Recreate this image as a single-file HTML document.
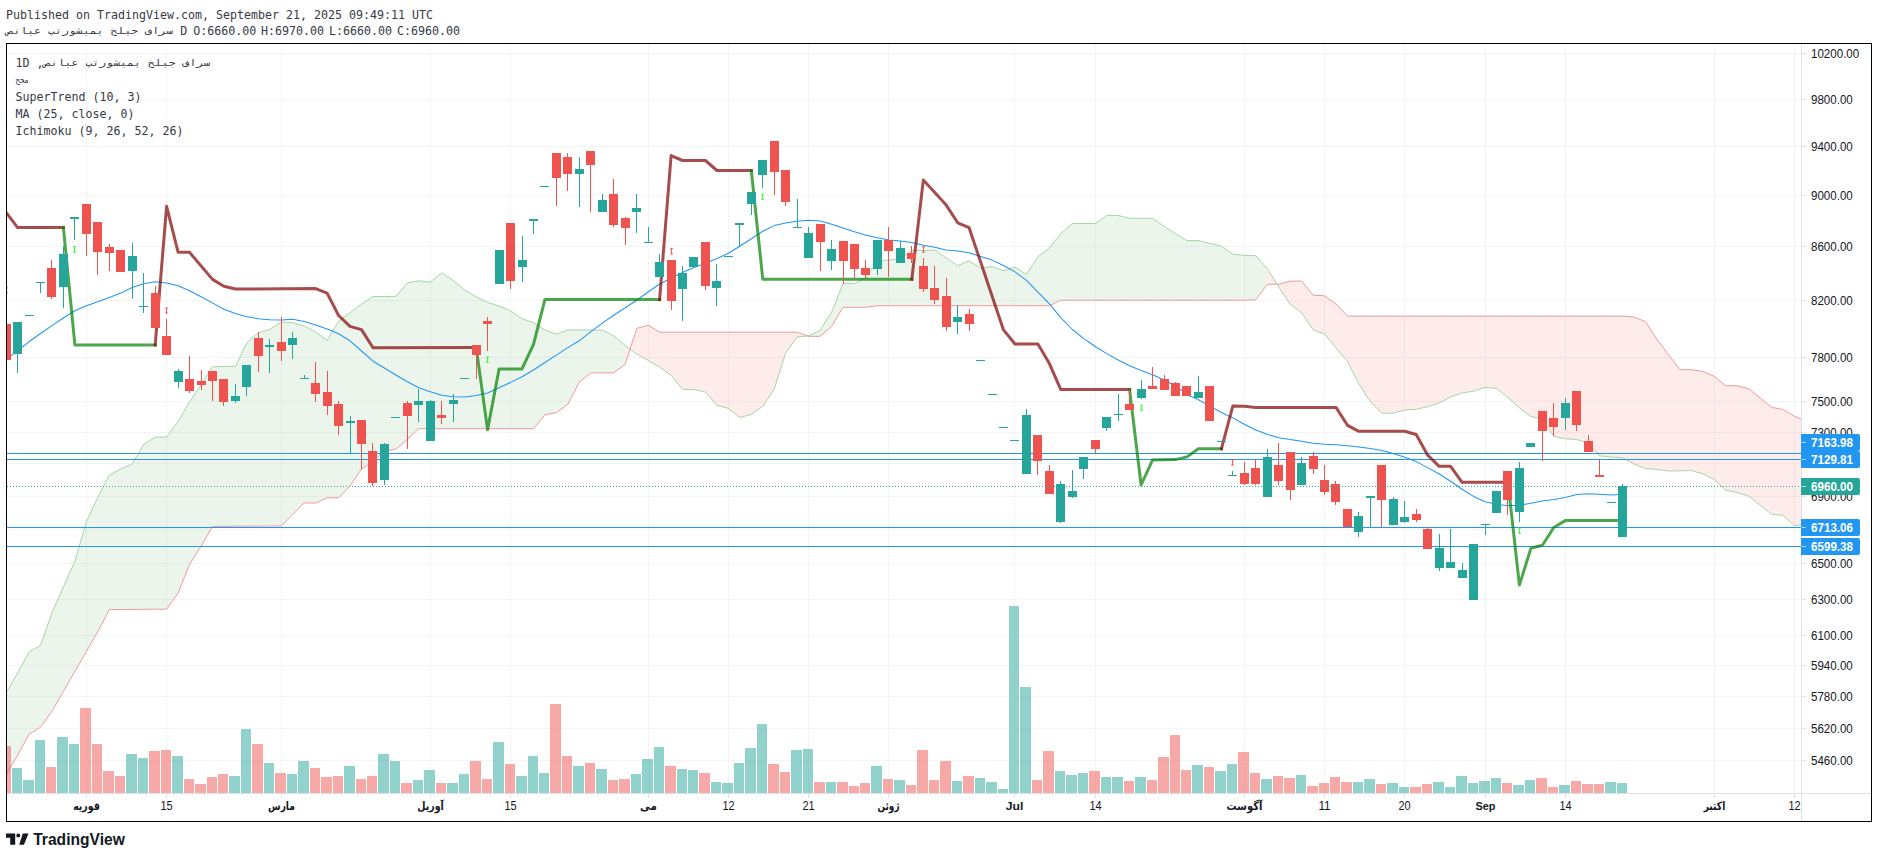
<!DOCTYPE html><html><head><meta charset="utf-8"><title>TradingView Chart</title>
<style>html,body{margin:0;padding:0;background:#fff;overflow:hidden}svg{display:block}.mono{font-family:"DejaVu Sans Mono","Liberation Mono",monospace;font-size:12.3px;fill:#363a45}.ax{font-family:"Liberation Sans","DejaVu Sans",sans-serif;font-size:12px;fill:#131722}.axb{font-family:"Liberation Sans","DejaVu Sans",sans-serif;font-size:12px;font-weight:bold;fill:#fff}.tm{font-family:"Liberation Sans","DejaVu Sans",sans-serif;font-size:12px;fill:#131722;text-anchor:middle}.tmb{font-family:"Liberation Sans","DejaVu Sans",sans-serif;font-size:11.5px;font-weight:bold;fill:#131722;text-anchor:middle}.logo{font-family:"Liberation Sans","DejaVu Sans",sans-serif;font-size:16.5px;font-weight:bold;fill:#131722}</style></head><body>
<svg width="1878" height="858" viewBox="0 0 1878 858">
<rect width="1878" height="858" fill="#fff"/>
<defs><clipPath id="pane"><rect x="7" y="44" width="1794.5" height="749"/></clipPath></defs>
<g shape-rendering="crispEdges">
<rect x="8" y="53" width="1793" height="1" fill="#f3f4f4"/>
<rect x="8" y="99" width="1793" height="1" fill="#f3f4f4"/>
<rect x="8" y="146" width="1793" height="1" fill="#f3f4f4"/>
<rect x="8" y="195" width="1793" height="1" fill="#f3f4f4"/>
<rect x="8" y="246" width="1793" height="1" fill="#f3f4f4"/>
<rect x="8" y="300" width="1793" height="1" fill="#f3f4f4"/>
<rect x="8" y="357" width="1793" height="1" fill="#f3f4f4"/>
<rect x="8" y="401" width="1793" height="1" fill="#f3f4f4"/>
<rect x="8" y="432" width="1793" height="1" fill="#f3f4f4"/>
<rect x="8" y="463" width="1793" height="1" fill="#f3f4f4"/>
<rect x="8" y="496" width="1793" height="1" fill="#f3f4f4"/>
<rect x="8" y="529" width="1793" height="1" fill="#f3f4f4"/>
<rect x="8" y="563" width="1793" height="1" fill="#f3f4f4"/>
<rect x="8" y="599" width="1793" height="1" fill="#f3f4f4"/>
<rect x="8" y="635" width="1793" height="1" fill="#f3f4f4"/>
<rect x="8" y="665" width="1793" height="1" fill="#f3f4f4"/>
<rect x="8" y="696" width="1793" height="1" fill="#f3f4f4"/>
<rect x="8" y="728" width="1793" height="1" fill="#f3f4f4"/>
<rect x="8" y="760" width="1793" height="1" fill="#f3f4f4"/>
<rect x="86" y="44" width="1" height="749" fill="#f3f4f4"/>
<rect x="166" y="44" width="1" height="749" fill="#f3f4f4"/>
<rect x="281" y="44" width="1" height="749" fill="#f3f4f4"/>
<rect x="430" y="44" width="1" height="749" fill="#f3f4f4"/>
<rect x="510" y="44" width="1" height="749" fill="#f3f4f4"/>
<rect x="648" y="44" width="1" height="749" fill="#f3f4f4"/>
<rect x="728" y="44" width="1" height="749" fill="#f3f4f4"/>
<rect x="808" y="44" width="1" height="749" fill="#f3f4f4"/>
<rect x="888" y="44" width="1" height="749" fill="#f3f4f4"/>
<rect x="1014" y="44" width="1" height="749" fill="#f3f4f4"/>
<rect x="1095" y="44" width="1" height="749" fill="#f3f4f4"/>
<rect x="1244" y="44" width="1" height="749" fill="#f3f4f4"/>
<rect x="1324" y="44" width="1" height="749" fill="#f3f4f4"/>
<rect x="1404" y="44" width="1" height="749" fill="#f3f4f4"/>
<rect x="1485" y="44" width="1" height="749" fill="#f3f4f4"/>
<rect x="1565" y="44" width="1" height="749" fill="#f3f4f4"/>
<rect x="1714" y="44" width="1" height="749" fill="#f3f4f4"/>
<rect x="1794" y="44" width="1" height="749" fill="#f3f4f4"/>
</g>
<g clip-path="url(#pane)">
<polygon points="6.1,692.8 17.6,673.2 29.0,651.9 40.5,645.5 52.0,612.5 63.4,587.0 74.9,561.2 86.4,521.7 97.8,497.2 109.3,475.2 120.8,468.8 132.2,464.1 143.7,444.5 155.2,437.0 166.6,437.0 178.1,421.6 189.5,401.8 201.0,385.3 212.5,366.8 223.9,366.5 235.4,366.3 246.9,342.7 258.3,332.6 269.8,329.4 281.3,322.0 292.7,322.6 304.2,326.0 315.7,332.0 327.1,340.5 338.6,321.3 350.0,312.8 361.5,304.0 373.0,296.5 384.4,296.5 395.9,296.4 407.4,283.0 418.8,280.8 430.3,282.1 441.8,272.9 453.2,280.4 464.7,290.0 476.2,296.8 487.6,302.4 499.1,306.0 510.6,310.9 522.0,318.8 533.5,322.6 544.9,330.1 556.4,334.2 567.9,329.9 579.3,330.0 590.8,330.0 602.3,330.1 613.7,335.9 625.2,345.5 625.2,364.2 613.7,372.8 602.3,372.8 590.8,372.8 579.3,382.2 567.9,404.1 556.4,412.7 544.9,414.8 533.5,428.7 522.0,428.7 510.6,428.7 499.1,428.7 487.6,428.7 476.2,428.7 464.7,428.7 453.2,428.7 441.8,428.7 430.3,428.7 418.8,428.7 407.4,439.3 395.9,449.0 384.4,451.2 373.0,461.6 361.5,469.0 350.0,485.9 338.6,497.8 327.1,497.8 315.7,503.0 304.2,503.0 292.7,514.5 281.3,526.0 269.8,526.0 258.3,526.1 246.9,526.2 235.4,526.2 223.9,526.3 212.5,526.4 201.0,546.3 189.5,564.4 178.1,593.2 166.6,609.2 155.2,609.2 143.7,609.3 132.2,609.4 120.8,609.5 109.3,609.6 97.8,631.6 86.4,651.5 74.9,671.4 63.4,691.3 52.0,711.2 40.5,727.2 29.0,734.2 17.6,755.4 6.1,774.9" fill="rgba(67,160,71,0.10)"/>
<polygon points="625.2,345.5 636.7,354.0 648.1,360.4 659.6,367.2 671.1,375.3 682.5,389.2 694.0,389.6 705.4,392.0 716.9,405.2 728.4,408.4 739.8,417.6 751.3,414.4 762.8,406.3 774.2,389.2 785.7,352.9 797.2,336.9 797.2,332.2 785.7,332.2 774.2,332.2 762.8,332.2 751.3,332.2 739.8,332.2 728.4,332.2 716.9,332.2 705.4,332.2 694.0,332.2 682.5,332.2 671.1,332.2 659.6,332.2 648.1,325.2 636.7,328.4 625.2,364.2" fill="rgba(244,67,54,0.10)"/>
<polygon points="797.2,336.9 808.6,335.9 820.1,330.5 831.6,312.4 843.0,283.6 854.5,283.6 866.0,277.8 877.4,260.6 888.9,260.1 900.3,258.6 911.8,250.5 923.3,250.3 934.7,250.1 946.2,258.0 957.7,265.7 969.1,260.8 980.6,268.2 992.1,266.5 1003.5,270.8 1015.0,267.2 1026.5,274.4 1037.9,256.8 1049.4,248.0 1060.8,233.6 1072.3,223.5 1083.8,223.5 1095.2,223.5 1106.7,215.5 1118.2,215.5 1129.6,218.3 1141.1,218.3 1152.6,218.3 1164.0,226.3 1175.5,233.7 1187.0,240.6 1198.4,240.6 1209.9,243.3 1221.4,246.1 1232.8,254.0 1244.3,255.5 1255.7,255.7 1267.2,268.5 1267.2,284.3 1255.7,299.9 1244.3,300.2 1232.8,300.2 1221.4,300.2 1209.9,300.2 1198.4,300.2 1187.0,300.2 1175.5,300.2 1164.0,300.2 1152.6,300.2 1141.1,300.2 1129.6,300.2 1118.2,300.2 1106.7,300.2 1095.2,300.2 1083.8,300.2 1072.3,300.2 1060.8,300.2 1049.4,305.7 1037.9,305.7 1026.5,305.7 1015.0,305.7 1003.5,305.7 992.1,305.7 980.6,305.7 969.1,305.7 957.7,305.7 946.2,305.7 934.7,305.7 923.3,305.7 911.8,305.7 900.3,305.7 888.9,305.7 877.4,305.7 866.0,307.3 854.5,307.3 843.0,307.3 831.6,326.3 820.1,336.3 808.6,336.3 797.2,332.2" fill="rgba(67,160,71,0.10)"/>
<polygon points="1267.2,268.5 1278.7,287.1 1290.1,304.1 1301.6,312.7 1313.1,329.7 1324.5,334.0 1336.0,347.9 1347.5,361.5 1358.9,383.7 1370.4,401.9 1381.9,413.2 1393.3,413.2 1404.8,410.0 1416.2,409.3 1427.7,406.6 1439.2,402.9 1450.6,397.0 1462.1,392.9 1473.6,391.2 1485.0,387.4 1496.5,388.4 1508.0,397.6 1519.4,407.8 1530.9,416.4 1542.4,419.2 1553.8,436.4 1565.3,438.8 1576.7,439.5 1588.2,443.0 1599.7,455.9 1611.1,456.9 1622.6,457.9 1634.1,463.9 1645.5,468.6 1657.0,469.3 1668.5,471.0 1679.9,470.9 1691.4,470.6 1702.9,473.9 1714.3,479.5 1725.8,490.2 1737.3,492.6 1748.7,496.1 1760.2,505.2 1771.6,514.2 1783.1,515.3 1794.6,525.8 1806.0,523.8 1806.0,421.0 1794.6,416.3 1783.1,409.5 1771.6,407.3 1760.2,398.0 1748.7,388.7 1737.3,385.8 1725.8,385.8 1714.3,376.4 1702.9,371.5 1691.4,369.7 1679.9,369.7 1668.5,354.6 1657.0,339.5 1645.5,321.6 1634.1,317.1 1622.6,316.1 1611.1,316.1 1599.7,316.1 1588.2,316.1 1576.7,316.1 1565.3,316.1 1553.8,316.1 1542.4,316.1 1530.9,316.1 1519.4,316.1 1508.0,316.1 1496.5,316.1 1485.0,316.1 1473.6,316.1 1462.1,316.1 1450.6,316.1 1439.2,316.1 1427.7,316.1 1416.2,316.1 1404.8,316.1 1393.3,316.1 1381.9,316.1 1370.4,316.1 1358.9,316.1 1347.5,316.1 1336.0,304.1 1324.5,295.8 1313.1,295.2 1301.6,281.1 1290.1,281.1 1278.7,284.3 1267.2,284.3" fill="rgba(244,67,54,0.10)"/>
<polyline fill="none" stroke="#a5d6a7" stroke-width="1" points="6.1,692.8 17.6,673.2 29.0,651.9 40.5,645.5 52.0,612.5 63.4,587.0 74.9,561.2 86.4,521.7 97.8,497.2 109.3,475.2 120.8,468.8 132.2,464.1 143.7,444.5 155.2,437.0 166.6,437.0 178.1,421.6 189.5,401.8 201.0,385.3 212.5,366.8 223.9,366.5 235.4,366.3 246.9,342.7 258.3,332.6 269.8,329.4 281.3,322.0 292.7,322.6 304.2,326.0 315.7,332.0 327.1,340.5 338.6,321.3 350.0,312.8 361.5,304.0 373.0,296.5 384.4,296.5 395.9,296.4 407.4,283.0 418.8,280.8 430.3,282.1 441.8,272.9 453.2,280.4 464.7,290.0 476.2,296.8 487.6,302.4 499.1,306.0 510.6,310.9 522.0,318.8 533.5,322.6 544.9,330.1 556.4,334.2 567.9,329.9 579.3,330.0 590.8,330.0 602.3,330.1 613.7,335.9 625.2,345.5 636.7,354.0 648.1,360.4 659.6,367.2 671.1,375.3 682.5,389.2 694.0,389.6 705.4,392.0 716.9,405.2 728.4,408.4 739.8,417.6 751.3,414.4 762.8,406.3 774.2,389.2 785.7,352.9 797.2,336.9 808.6,335.9 820.1,330.5 831.6,312.4 843.0,283.6 854.5,283.6 866.0,277.8 877.4,260.6 888.9,260.1 900.3,258.6 911.8,250.5 923.3,250.3 934.7,250.1 946.2,258.0 957.7,265.7 969.1,260.8 980.6,268.2 992.1,266.5 1003.5,270.8 1015.0,267.2 1026.5,274.4 1037.9,256.8 1049.4,248.0 1060.8,233.6 1072.3,223.5 1083.8,223.5 1095.2,223.5 1106.7,215.5 1118.2,215.5 1129.6,218.3 1141.1,218.3 1152.6,218.3 1164.0,226.3 1175.5,233.7 1187.0,240.6 1198.4,240.6 1209.9,243.3 1221.4,246.1 1232.8,254.0 1244.3,255.5 1255.7,255.7 1267.2,268.5 1278.7,287.1 1290.1,304.1 1301.6,312.7 1313.1,329.7 1324.5,334.0 1336.0,347.9 1347.5,361.5 1358.9,383.7 1370.4,401.9 1381.9,413.2 1393.3,413.2 1404.8,410.0 1416.2,409.3 1427.7,406.6 1439.2,402.9 1450.6,397.0 1462.1,392.9 1473.6,391.2 1485.0,387.4 1496.5,388.4 1508.0,397.6 1519.4,407.8 1530.9,416.4 1542.4,419.2 1553.8,436.4 1565.3,438.8 1576.7,439.5 1588.2,443.0 1599.7,455.9 1611.1,456.9 1622.6,457.9 1634.1,463.9 1645.5,468.6 1657.0,469.3 1668.5,471.0 1679.9,470.9 1691.4,470.6 1702.9,473.9 1714.3,479.5 1725.8,490.2 1737.3,492.6 1748.7,496.1 1760.2,505.2 1771.6,514.2 1783.1,515.3 1794.6,525.8 1806.0,523.8"/>
<polyline fill="none" stroke="#ef9a9a" stroke-width="1" points="6.1,774.9 17.6,755.4 29.0,734.2 40.5,727.2 52.0,711.2 63.4,691.3 74.9,671.4 86.4,651.5 97.8,631.6 109.3,609.6 120.8,609.5 132.2,609.4 143.7,609.3 155.2,609.2 166.6,609.2 178.1,593.2 189.5,564.4 201.0,546.3 212.5,526.4 223.9,526.3 235.4,526.2 246.9,526.2 258.3,526.1 269.8,526.0 281.3,526.0 292.7,514.5 304.2,503.0 315.7,503.0 327.1,497.8 338.6,497.8 350.0,485.9 361.5,469.0 373.0,461.6 384.4,451.2 395.9,449.0 407.4,439.3 418.8,428.7 430.3,428.7 441.8,428.7 453.2,428.7 464.7,428.7 476.2,428.7 487.6,428.7 499.1,428.7 510.6,428.7 522.0,428.7 533.5,428.7 544.9,414.8 556.4,412.7 567.9,404.1 579.3,382.2 590.8,372.8 602.3,372.8 613.7,372.8 625.2,364.2 636.7,328.4 648.1,325.2 659.6,332.2 671.1,332.2 682.5,332.2 694.0,332.2 705.4,332.2 716.9,332.2 728.4,332.2 739.8,332.2 751.3,332.2 762.8,332.2 774.2,332.2 785.7,332.2 797.2,332.2 808.6,336.3 820.1,336.3 831.6,326.3 843.0,307.3 854.5,307.3 866.0,307.3 877.4,305.7 888.9,305.7 900.3,305.7 911.8,305.7 923.3,305.7 934.7,305.7 946.2,305.7 957.7,305.7 969.1,305.7 980.6,305.7 992.1,305.7 1003.5,305.7 1015.0,305.7 1026.5,305.7 1037.9,305.7 1049.4,305.7 1060.8,300.2 1072.3,300.2 1083.8,300.2 1095.2,300.2 1106.7,300.2 1118.2,300.2 1129.6,300.2 1141.1,300.2 1152.6,300.2 1164.0,300.2 1175.5,300.2 1187.0,300.2 1198.4,300.2 1209.9,300.2 1221.4,300.2 1232.8,300.2 1244.3,300.2 1255.7,299.9 1267.2,284.3 1278.7,284.3 1290.1,281.1 1301.6,281.1 1313.1,295.2 1324.5,295.8 1336.0,304.1 1347.5,316.1 1358.9,316.1 1370.4,316.1 1381.9,316.1 1393.3,316.1 1404.8,316.1 1416.2,316.1 1427.7,316.1 1439.2,316.1 1450.6,316.1 1462.1,316.1 1473.6,316.1 1485.0,316.1 1496.5,316.1 1508.0,316.1 1519.4,316.1 1530.9,316.1 1542.4,316.1 1553.8,316.1 1565.3,316.1 1576.7,316.1 1588.2,316.1 1599.7,316.1 1611.1,316.1 1622.6,316.1 1634.1,317.1 1645.5,321.6 1657.0,339.5 1668.5,354.6 1679.9,369.7 1691.4,369.7 1702.9,371.5 1714.3,376.4 1725.8,385.8 1737.3,385.8 1748.7,388.7 1760.2,398.0 1771.6,407.3 1783.1,409.5 1794.6,416.3 1806.0,421.0"/>
</g>
<g shape-rendering="crispEdges" clip-path="url(#pane)">
<rect x="0" y="746" width="11" height="47" fill="rgba(239,83,80,0.5)"/>
<rect x="12" y="768" width="10" height="25" fill="rgba(38,166,154,0.5)"/>
<rect x="23" y="780" width="11" height="13" fill="rgba(38,166,154,0.5)"/>
<rect x="35" y="740" width="10" height="53" fill="rgba(38,166,154,0.5)"/>
<rect x="46" y="767" width="10" height="26" fill="rgba(239,83,80,0.5)"/>
<rect x="57" y="737" width="11" height="56" fill="rgba(38,166,154,0.5)"/>
<rect x="69" y="744" width="10" height="49" fill="rgba(38,166,154,0.5)"/>
<rect x="80" y="708" width="11" height="85" fill="rgba(239,83,80,0.5)"/>
<rect x="92" y="744" width="10" height="49" fill="rgba(239,83,80,0.5)"/>
<rect x="103" y="771" width="11" height="22" fill="rgba(239,83,80,0.5)"/>
<rect x="115" y="776" width="10" height="17" fill="rgba(239,83,80,0.5)"/>
<rect x="126" y="754" width="11" height="39" fill="rgba(38,166,154,0.5)"/>
<rect x="138" y="758" width="10" height="35" fill="rgba(38,166,154,0.5)"/>
<rect x="149" y="751" width="11" height="42" fill="rgba(239,83,80,0.5)"/>
<rect x="161" y="750" width="10" height="43" fill="rgba(239,83,80,0.5)"/>
<rect x="172" y="756" width="11" height="37" fill="rgba(38,166,154,0.5)"/>
<rect x="184" y="779" width="10" height="14" fill="rgba(239,83,80,0.5)"/>
<rect x="195" y="784" width="11" height="9" fill="rgba(239,83,80,0.5)"/>
<rect x="207" y="777" width="10" height="16" fill="rgba(239,83,80,0.5)"/>
<rect x="218" y="774" width="10" height="19" fill="rgba(239,83,80,0.5)"/>
<rect x="229" y="776" width="11" height="17" fill="rgba(38,166,154,0.5)"/>
<rect x="241" y="729" width="10" height="64" fill="rgba(38,166,154,0.5)"/>
<rect x="252" y="744" width="11" height="49" fill="rgba(239,83,80,0.5)"/>
<rect x="264" y="763" width="10" height="30" fill="rgba(38,166,154,0.5)"/>
<rect x="275" y="773" width="11" height="20" fill="rgba(239,83,80,0.5)"/>
<rect x="287" y="774" width="10" height="19" fill="rgba(38,166,154,0.5)"/>
<rect x="298" y="761" width="11" height="32" fill="rgba(38,166,154,0.5)"/>
<rect x="310" y="768" width="10" height="25" fill="rgba(239,83,80,0.5)"/>
<rect x="321" y="777" width="11" height="16" fill="rgba(239,83,80,0.5)"/>
<rect x="333" y="776" width="10" height="17" fill="rgba(239,83,80,0.5)"/>
<rect x="344" y="766" width="11" height="27" fill="rgba(38,166,154,0.5)"/>
<rect x="356" y="779" width="10" height="14" fill="rgba(239,83,80,0.5)"/>
<rect x="367" y="776" width="10" height="17" fill="rgba(239,83,80,0.5)"/>
<rect x="378" y="754" width="11" height="39" fill="rgba(38,166,154,0.5)"/>
<rect x="390" y="761" width="10" height="32" fill="rgba(38,166,154,0.5)"/>
<rect x="401" y="783" width="11" height="10" fill="rgba(239,83,80,0.5)"/>
<rect x="413" y="780" width="10" height="13" fill="rgba(38,166,154,0.5)"/>
<rect x="424" y="770" width="11" height="23" fill="rgba(38,166,154,0.5)"/>
<rect x="436" y="783" width="10" height="10" fill="rgba(239,83,80,0.5)"/>
<rect x="447" y="783" width="11" height="10" fill="rgba(38,166,154,0.5)"/>
<rect x="459" y="774" width="10" height="19" fill="rgba(38,166,154,0.5)"/>
<rect x="470" y="761" width="11" height="32" fill="rgba(239,83,80,0.5)"/>
<rect x="482" y="779" width="10" height="14" fill="rgba(239,83,80,0.5)"/>
<rect x="493" y="742" width="11" height="51" fill="rgba(38,166,154,0.5)"/>
<rect x="505" y="764" width="10" height="29" fill="rgba(239,83,80,0.5)"/>
<rect x="516" y="776" width="11" height="17" fill="rgba(38,166,154,0.5)"/>
<rect x="528" y="756" width="10" height="37" fill="rgba(38,166,154,0.5)"/>
<rect x="539" y="773" width="10" height="20" fill="rgba(38,166,154,0.5)"/>
<rect x="550" y="704" width="11" height="89" fill="rgba(239,83,80,0.5)"/>
<rect x="562" y="756" width="10" height="37" fill="rgba(239,83,80,0.5)"/>
<rect x="573" y="766" width="11" height="27" fill="rgba(38,166,154,0.5)"/>
<rect x="585" y="763" width="10" height="30" fill="rgba(239,83,80,0.5)"/>
<rect x="596" y="769" width="11" height="24" fill="rgba(38,166,154,0.5)"/>
<rect x="608" y="780" width="10" height="13" fill="rgba(239,83,80,0.5)"/>
<rect x="619" y="779" width="11" height="14" fill="rgba(239,83,80,0.5)"/>
<rect x="631" y="774" width="10" height="19" fill="rgba(38,166,154,0.5)"/>
<rect x="642" y="759" width="11" height="34" fill="rgba(38,166,154,0.5)"/>
<rect x="654" y="747" width="10" height="46" fill="rgba(38,166,154,0.5)"/>
<rect x="665" y="766" width="11" height="27" fill="rgba(239,83,80,0.5)"/>
<rect x="677" y="769" width="10" height="24" fill="rgba(38,166,154,0.5)"/>
<rect x="688" y="770" width="10" height="23" fill="rgba(38,166,154,0.5)"/>
<rect x="699" y="773" width="11" height="20" fill="rgba(239,83,80,0.5)"/>
<rect x="711" y="782" width="10" height="11" fill="rgba(38,166,154,0.5)"/>
<rect x="722" y="783" width="11" height="10" fill="rgba(38,166,154,0.5)"/>
<rect x="734" y="763" width="10" height="30" fill="rgba(38,166,154,0.5)"/>
<rect x="745" y="748" width="11" height="45" fill="rgba(38,166,154,0.5)"/>
<rect x="757" y="724" width="10" height="69" fill="rgba(38,166,154,0.5)"/>
<rect x="768" y="764" width="11" height="29" fill="rgba(239,83,80,0.5)"/>
<rect x="780" y="772" width="10" height="21" fill="rgba(239,83,80,0.5)"/>
<rect x="791" y="750" width="11" height="43" fill="rgba(38,166,154,0.5)"/>
<rect x="803" y="749" width="10" height="44" fill="rgba(38,166,154,0.5)"/>
<rect x="814" y="782" width="11" height="11" fill="rgba(239,83,80,0.5)"/>
<rect x="826" y="782" width="10" height="11" fill="rgba(38,166,154,0.5)"/>
<rect x="837" y="782" width="11" height="11" fill="rgba(239,83,80,0.5)"/>
<rect x="849" y="786" width="10" height="7" fill="rgba(239,83,80,0.5)"/>
<rect x="860" y="783" width="10" height="10" fill="rgba(239,83,80,0.5)"/>
<rect x="871" y="766" width="11" height="27" fill="rgba(38,166,154,0.5)"/>
<rect x="883" y="779" width="10" height="14" fill="rgba(239,83,80,0.5)"/>
<rect x="894" y="780" width="11" height="13" fill="rgba(38,166,154,0.5)"/>
<rect x="906" y="785" width="10" height="8" fill="rgba(239,83,80,0.5)"/>
<rect x="917" y="750" width="11" height="43" fill="rgba(239,83,80,0.5)"/>
<rect x="929" y="780" width="10" height="13" fill="rgba(239,83,80,0.5)"/>
<rect x="940" y="761" width="11" height="32" fill="rgba(239,83,80,0.5)"/>
<rect x="952" y="781" width="10" height="12" fill="rgba(38,166,154,0.5)"/>
<rect x="963" y="776" width="11" height="17" fill="rgba(239,83,80,0.5)"/>
<rect x="975" y="778" width="10" height="15" fill="rgba(38,166,154,0.5)"/>
<rect x="986" y="782" width="11" height="11" fill="rgba(38,166,154,0.5)"/>
<rect x="998" y="789" width="10" height="4" fill="rgba(38,166,154,0.5)"/>
<rect x="1009" y="606" width="10" height="187" fill="rgba(38,166,154,0.5)"/>
<rect x="1020" y="687" width="11" height="106" fill="rgba(38,166,154,0.5)"/>
<rect x="1032" y="780" width="10" height="13" fill="rgba(239,83,80,0.5)"/>
<rect x="1043" y="751" width="11" height="42" fill="rgba(239,83,80,0.5)"/>
<rect x="1055" y="771" width="10" height="22" fill="rgba(38,166,154,0.5)"/>
<rect x="1066" y="775" width="11" height="18" fill="rgba(38,166,154,0.5)"/>
<rect x="1078" y="773" width="10" height="20" fill="rgba(38,166,154,0.5)"/>
<rect x="1089" y="771" width="11" height="22" fill="rgba(239,83,80,0.5)"/>
<rect x="1101" y="777" width="10" height="16" fill="rgba(38,166,154,0.5)"/>
<rect x="1112" y="777" width="11" height="16" fill="rgba(38,166,154,0.5)"/>
<rect x="1124" y="781" width="10" height="12" fill="rgba(239,83,80,0.5)"/>
<rect x="1135" y="777" width="11" height="16" fill="rgba(38,166,154,0.5)"/>
<rect x="1147" y="780" width="10" height="13" fill="rgba(239,83,80,0.5)"/>
<rect x="1158" y="757" width="11" height="36" fill="rgba(239,83,80,0.5)"/>
<rect x="1170" y="735" width="10" height="58" fill="rgba(239,83,80,0.5)"/>
<rect x="1181" y="770" width="10" height="23" fill="rgba(239,83,80,0.5)"/>
<rect x="1192" y="765" width="11" height="28" fill="rgba(38,166,154,0.5)"/>
<rect x="1204" y="767" width="10" height="26" fill="rgba(239,83,80,0.5)"/>
<rect x="1215" y="771" width="11" height="22" fill="rgba(38,166,154,0.5)"/>
<rect x="1227" y="764" width="10" height="29" fill="rgba(38,166,154,0.5)"/>
<rect x="1238" y="752" width="11" height="41" fill="rgba(239,83,80,0.5)"/>
<rect x="1250" y="773" width="10" height="20" fill="rgba(239,83,80,0.5)"/>
<rect x="1261" y="779" width="11" height="14" fill="rgba(38,166,154,0.5)"/>
<rect x="1273" y="776" width="10" height="17" fill="rgba(239,83,80,0.5)"/>
<rect x="1284" y="778" width="11" height="15" fill="rgba(239,83,80,0.5)"/>
<rect x="1296" y="775" width="10" height="18" fill="rgba(38,166,154,0.5)"/>
<rect x="1307" y="786" width="11" height="7" fill="rgba(239,83,80,0.5)"/>
<rect x="1319" y="783" width="10" height="10" fill="rgba(239,83,80,0.5)"/>
<rect x="1330" y="777" width="10" height="16" fill="rgba(239,83,80,0.5)"/>
<rect x="1341" y="782" width="11" height="11" fill="rgba(239,83,80,0.5)"/>
<rect x="1353" y="782" width="10" height="11" fill="rgba(38,166,154,0.5)"/>
<rect x="1364" y="779" width="11" height="14" fill="rgba(38,166,154,0.5)"/>
<rect x="1376" y="784" width="10" height="9" fill="rgba(239,83,80,0.5)"/>
<rect x="1387" y="783" width="11" height="10" fill="rgba(38,166,154,0.5)"/>
<rect x="1399" y="787" width="10" height="6" fill="rgba(38,166,154,0.5)"/>
<rect x="1410" y="787" width="11" height="6" fill="rgba(239,83,80,0.5)"/>
<rect x="1422" y="784" width="10" height="9" fill="rgba(239,83,80,0.5)"/>
<rect x="1433" y="782" width="11" height="11" fill="rgba(38,166,154,0.5)"/>
<rect x="1445" y="787" width="10" height="6" fill="rgba(38,166,154,0.5)"/>
<rect x="1456" y="776" width="11" height="17" fill="rgba(38,166,154,0.5)"/>
<rect x="1468" y="783" width="10" height="10" fill="rgba(38,166,154,0.5)"/>
<rect x="1479" y="781" width="11" height="12" fill="rgba(38,166,154,0.5)"/>
<rect x="1491" y="778" width="10" height="15" fill="rgba(38,166,154,0.5)"/>
<rect x="1502" y="783" width="10" height="10" fill="rgba(239,83,80,0.5)"/>
<rect x="1513" y="785" width="11" height="8" fill="rgba(38,166,154,0.5)"/>
<rect x="1525" y="780" width="10" height="13" fill="rgba(38,166,154,0.5)"/>
<rect x="1536" y="778" width="11" height="15" fill="rgba(239,83,80,0.5)"/>
<rect x="1548" y="787" width="10" height="6" fill="rgba(239,83,80,0.5)"/>
<rect x="1559" y="785" width="11" height="8" fill="rgba(38,166,154,0.5)"/>
<rect x="1571" y="781" width="10" height="12" fill="rgba(239,83,80,0.5)"/>
<rect x="1582" y="784" width="11" height="9" fill="rgba(239,83,80,0.5)"/>
<rect x="1594" y="784" width="10" height="9" fill="rgba(239,83,80,0.5)"/>
<rect x="1605" y="782" width="11" height="11" fill="rgba(38,166,154,0.5)"/>
<rect x="1617" y="783" width="10" height="10" fill="rgba(38,166,154,0.5)"/>
</g>
<g shape-rendering="crispEdges">
<rect x="7" y="453" width="1794" height="1" fill="#2196f3"/>
<rect x="7" y="459" width="1794" height="1" fill="#2196f3"/>
<rect x="7" y="527" width="1794" height="1" fill="#2196f3"/>
<rect x="7" y="546" width="1794" height="1" fill="#2196f3"/>
</g>
<g clip-path="url(#pane)">
<polyline fill="none" stroke="#2196f3" stroke-width="1.05" stroke-linejoin="round" points="6.1,359.5 17.6,350.5 29.0,341.8 40.5,333.5 52.0,325.6 63.4,318.0 74.9,310.8 86.4,305.7 97.8,301.8 109.3,297.4 120.8,293.1 132.2,287.5 143.7,283.7 155.2,281.8 166.6,282.9 178.1,285.8 189.5,290.7 201.0,296.8 212.5,302.9 223.9,309.3 235.4,313.4 246.9,316.8 258.3,318.7 269.8,319.8 281.3,320.0 292.7,319.3 304.2,321.5 315.7,325.1 327.1,328.9 338.6,333.8 350.0,340.8 361.5,351.0 373.0,361.2 384.4,368.0 395.9,375.0 407.4,381.7 418.8,387.7 430.3,391.8 441.8,395.2 453.2,396.7 464.7,396.9 476.2,395.6 487.6,393.0 499.1,387.7 510.6,382.4 522.0,376.8 533.5,370.0 544.9,362.5 556.4,355.1 567.9,347.6 579.3,340.8 590.8,331.6 602.3,323.1 613.7,315.2 625.2,307.7 636.7,300.2 648.1,292.0 659.6,284.0 671.1,278.3 682.5,272.5 694.0,267.4 705.4,263.3 716.9,258.6 728.4,253.3 739.8,246.3 751.3,238.8 762.8,231.3 774.2,225.6 785.7,223.0 797.2,221.3 808.6,220.2 820.1,221.1 831.6,224.3 843.0,228.1 854.5,231.8 866.0,235.2 877.4,237.7 888.9,239.9 900.3,240.9 911.8,242.6 923.3,245.2 934.7,247.3 946.2,250.1 957.7,251.0 969.1,252.7 980.6,256.5 992.1,260.1 1003.5,265.5 1015.0,271.9 1026.5,280.4 1037.9,292.1 1049.4,303.9 1060.8,317.7 1072.3,329.5 1083.8,338.6 1095.2,346.5 1106.7,353.6 1118.2,360.0 1129.6,365.7 1141.1,370.6 1152.6,374.7 1164.0,380.0 1175.5,386.0 1187.0,394.4 1198.4,399.7 1209.9,406.1 1221.4,412.5 1232.8,417.9 1244.3,424.3 1255.7,430.0 1267.2,434.3 1278.7,437.7 1290.1,439.6 1301.6,441.3 1313.1,443.3 1324.5,444.3 1336.0,444.7 1347.5,445.8 1358.9,446.9 1370.4,448.4 1381.9,450.5 1393.3,453.5 1404.8,457.3 1416.2,461.6 1427.7,467.6 1439.2,474.0 1450.6,481.2 1462.1,489.3 1473.6,496.4 1485.0,501.7 1496.5,504.3 1508.0,505.8 1519.4,505.3 1530.9,503.2 1542.4,501.1 1553.8,499.5 1565.3,497.5 1576.7,494.6 1588.2,493.7 1599.7,494.2 1611.1,494.9 1622.6,494.3"/>
<polyline fill="none" stroke="rgba(128,0,0,0.7)" stroke-width="3" stroke-linejoin="round" stroke-linecap="square" points="6.1,212.3 17.6,227.6 63.4,227.6"/>
<polyline fill="none" stroke="rgba(0,128,0,0.7)" stroke-width="3" stroke-linejoin="round" stroke-linecap="square" points="63.4,227.6 74.9,344.9 155.2,344.9"/>
<polyline fill="none" stroke="rgba(128,0,0,0.7)" stroke-width="3" stroke-linejoin="round" stroke-linecap="square" points="155.2,344.9 166.6,206.3 178.1,252.3 189.5,252.3 212.5,279.4 223.9,286.3 235.4,289.0 315.7,288.6 327.1,293.1 338.6,315.5 350.0,326.4 361.5,329.6 373.0,347.7 476.2,347.6"/>
<polyline fill="none" stroke="rgba(0,128,0,0.7)" stroke-width="3" stroke-linejoin="round" stroke-linecap="square" points="476.2,347.6 487.6,429.7 499.1,368.9 522.0,368.9 533.5,344.4 544.9,299.6 659.6,299.6"/>
<polyline fill="none" stroke="rgba(128,0,0,0.7)" stroke-width="3" stroke-linejoin="round" stroke-linecap="square" points="659.6,299.6 671.1,155.6 682.5,160.5 705.4,160.5 716.9,170.5 751.3,170.5"/>
<polyline fill="none" stroke="rgba(0,128,0,0.7)" stroke-width="3" stroke-linejoin="round" stroke-linecap="square" points="751.3,170.5 762.8,279.3 911.8,279.3"/>
<polyline fill="none" stroke="rgba(128,0,0,0.7)" stroke-width="3" stroke-linejoin="round" stroke-linecap="square" points="911.8,279.3 923.3,180.1 946.2,205.1 957.7,222.8 969.1,227.7 1003.5,329.9 1015.0,344.0 1037.9,344.0 1049.4,363.6 1060.8,389.6 1129.6,389.6"/>
<polyline fill="none" stroke="rgba(0,128,0,0.7)" stroke-width="3" stroke-linejoin="round" stroke-linecap="square" points="1129.6,389.6 1141.1,485.0 1152.6,459.9 1175.5,459.6 1187.0,456.9 1198.4,448.8 1221.4,448.8"/>
<polyline fill="none" stroke="rgba(128,0,0,0.7)" stroke-width="3" stroke-linejoin="round" stroke-linecap="square" points="1221.4,448.8 1232.8,406.1 1244.3,406.3 1255.7,407.4 1336.0,407.4 1347.5,425.3 1358.9,431.3 1404.8,431.3 1416.2,434.5 1427.7,455.2 1439.2,466.3 1450.6,466.3 1462.1,482.3 1508.0,482.3"/>
<polyline fill="none" stroke="rgba(0,128,0,0.7)" stroke-width="3" stroke-linejoin="round" stroke-linecap="square" points="1508.0,482.3 1519.4,585.1 1530.9,548.2 1542.4,545.2 1553.8,527.5 1565.3,520.6 1622.6,520.6"/>
<path d="M5.0,287.3 h3 l-1,2 v2.0 l1,2 h-3 l1,-2 v-2.0 z" fill="rgba(255,40,40,0.75)"/>
<path d="M73.0,246 h3 l-1,2 v3 l1,2 h-3 l1,-2 v-3 z" fill="rgba(0,255,0,0.75)"/>
<path d="M165.0,307.6 h3 l-1,2 v2.0 l1,2 h-3 l1,-2 v-2.0 z" fill="rgba(255,40,40,0.75)"/>
<path d="M486.0,356.6 h3 l-1,2 v2.3999999999999773 l1,2 h-3 l1,-2 v-2.3999999999999773 z" fill="rgba(0,255,0,0.75)"/>
<path d="M670.0,248 h3 l-1,2 v2.4000000000000057 l1,2 h-3 l1,-2 v-2.4000000000000057 z" fill="rgba(255,40,40,0.75)"/>
<path d="M761.0,193.6 h3 l-1,2 v2.4000000000000057 l1,2 h-3 l1,-2 v-2.4000000000000057 z" fill="rgba(0,255,0,0.75)"/>
<path d="M922.0,246.3 h3 l-1,2 v2.3999999999999773 l1,2 h-3 l1,-2 v-2.3999999999999773 z" fill="rgba(255,40,40,0.75)"/>
<path d="M1140.0,404.6 h3 l-1,2 v2.3999999999999773 l1,2 h-3 l1,-2 v-2.3999999999999773 z" fill="rgba(0,255,0,0.75)"/>
<path d="M1231.0,459 h3 l-1,2 v2.5 l1,2 h-3 l1,-2 v-2.5 z" fill="rgba(255,40,40,0.75)"/>
<path d="M1518.0,527.5 h3 l-1,2 v2.3999999999999773 l1,2 h-3 l1,-2 v-2.3999999999999773 z" fill="rgba(0,255,0,0.75)"/>
</g>
<g shape-rendering="crispEdges" clip-path="url(#pane)">
<rect x="6" y="324" width="1" height="36" fill="#ef5350"/>
<rect x="2" y="324" width="9" height="36" fill="#ef5350"/>
<rect x="17" y="322" width="1" height="51" fill="#26a69a"/>
<rect x="13" y="322" width="9" height="32" fill="#26a69a"/>
<rect x="29" y="315" width="1" height="1" fill="#26a69a"/>
<rect x="25" y="315" width="9" height="1" fill="#26a69a"/>
<rect x="40" y="282" width="1" height="11" fill="#26a69a"/>
<rect x="36" y="282" width="9" height="1" fill="#26a69a"/>
<rect x="51" y="260" width="1" height="39" fill="#ef5350"/>
<rect x="47" y="268" width="9" height="29" fill="#ef5350"/>
<rect x="63" y="246" width="1" height="62" fill="#26a69a"/>
<rect x="59" y="254" width="9" height="33" fill="#26a69a"/>
<rect x="74" y="217" width="1" height="23" fill="#26a69a"/>
<rect x="70" y="217" width="9" height="2" fill="#26a69a"/>
<rect x="86" y="204" width="1" height="52" fill="#ef5350"/>
<rect x="82" y="204" width="9" height="30" fill="#ef5350"/>
<rect x="97" y="222" width="1" height="53" fill="#ef5350"/>
<rect x="93" y="222" width="9" height="30" fill="#ef5350"/>
<rect x="109" y="244" width="1" height="27" fill="#ef5350"/>
<rect x="105" y="247" width="9" height="6" fill="#ef5350"/>
<rect x="120" y="250" width="1" height="22" fill="#ef5350"/>
<rect x="116" y="250" width="9" height="22" fill="#ef5350"/>
<rect x="132" y="243" width="1" height="56" fill="#26a69a"/>
<rect x="128" y="256" width="9" height="15" fill="#26a69a"/>
<rect x="143" y="273" width="1" height="40" fill="#26a69a"/>
<rect x="139" y="306" width="9" height="1" fill="#26a69a"/>
<rect x="155" y="286" width="1" height="42" fill="#ef5350"/>
<rect x="151" y="293" width="9" height="35" fill="#ef5350"/>
<rect x="166" y="319" width="1" height="36" fill="#ef5350"/>
<rect x="162" y="336" width="9" height="19" fill="#ef5350"/>
<rect x="178" y="369" width="1" height="19" fill="#26a69a"/>
<rect x="174" y="371" width="9" height="11" fill="#26a69a"/>
<rect x="189" y="356" width="1" height="37" fill="#ef5350"/>
<rect x="185" y="379" width="9" height="12" fill="#ef5350"/>
<rect x="201" y="370" width="1" height="20" fill="#ef5350"/>
<rect x="197" y="381" width="9" height="4" fill="#ef5350"/>
<rect x="212" y="371" width="1" height="30" fill="#ef5350"/>
<rect x="208" y="371" width="9" height="10" fill="#ef5350"/>
<rect x="223" y="379" width="1" height="27" fill="#ef5350"/>
<rect x="219" y="379" width="9" height="23" fill="#ef5350"/>
<rect x="235" y="384" width="1" height="19" fill="#26a69a"/>
<rect x="231" y="396" width="9" height="5" fill="#26a69a"/>
<rect x="246" y="365" width="1" height="31" fill="#26a69a"/>
<rect x="242" y="365" width="9" height="22" fill="#26a69a"/>
<rect x="258" y="332" width="1" height="40" fill="#ef5350"/>
<rect x="254" y="338" width="9" height="18" fill="#ef5350"/>
<rect x="269" y="339" width="1" height="34" fill="#26a69a"/>
<rect x="265" y="345" width="9" height="2" fill="#26a69a"/>
<rect x="281" y="317" width="1" height="44" fill="#ef5350"/>
<rect x="277" y="342" width="9" height="9" fill="#ef5350"/>
<rect x="292" y="332" width="1" height="27" fill="#26a69a"/>
<rect x="288" y="338" width="9" height="7" fill="#26a69a"/>
<rect x="304" y="375" width="1" height="4" fill="#26a69a"/>
<rect x="300" y="378" width="9" height="1" fill="#26a69a"/>
<rect x="315" y="362" width="1" height="40" fill="#ef5350"/>
<rect x="311" y="383" width="9" height="11" fill="#ef5350"/>
<rect x="327" y="371" width="1" height="44" fill="#ef5350"/>
<rect x="323" y="392" width="9" height="14" fill="#ef5350"/>
<rect x="338" y="401" width="1" height="34" fill="#ef5350"/>
<rect x="334" y="404" width="9" height="22" fill="#ef5350"/>
<rect x="350" y="416" width="1" height="37" fill="#26a69a"/>
<rect x="346" y="421" width="9" height="2" fill="#26a69a"/>
<rect x="361" y="420" width="1" height="49" fill="#ef5350"/>
<rect x="357" y="420" width="9" height="24" fill="#ef5350"/>
<rect x="372" y="443" width="1" height="43" fill="#ef5350"/>
<rect x="368" y="451" width="9" height="32" fill="#ef5350"/>
<rect x="384" y="443" width="1" height="42" fill="#26a69a"/>
<rect x="380" y="444" width="9" height="36" fill="#26a69a"/>
<rect x="395" y="417" width="1" height="1" fill="#26a69a"/>
<rect x="391" y="417" width="9" height="1" fill="#26a69a"/>
<rect x="407" y="401" width="1" height="48" fill="#ef5350"/>
<rect x="403" y="403" width="9" height="13" fill="#ef5350"/>
<rect x="418" y="389" width="1" height="33" fill="#26a69a"/>
<rect x="414" y="401" width="9" height="4" fill="#26a69a"/>
<rect x="430" y="400" width="1" height="41" fill="#26a69a"/>
<rect x="426" y="401" width="9" height="40" fill="#26a69a"/>
<rect x="441" y="401" width="1" height="23" fill="#ef5350"/>
<rect x="437" y="415" width="9" height="3" fill="#ef5350"/>
<rect x="453" y="394" width="1" height="28" fill="#26a69a"/>
<rect x="449" y="400" width="9" height="4" fill="#26a69a"/>
<rect x="464" y="378" width="1" height="1" fill="#26a69a"/>
<rect x="460" y="378" width="9" height="1" fill="#26a69a"/>
<rect x="476" y="345" width="1" height="34" fill="#ef5350"/>
<rect x="472" y="345" width="9" height="10" fill="#ef5350"/>
<rect x="487" y="317" width="1" height="34" fill="#ef5350"/>
<rect x="483" y="321" width="9" height="3" fill="#ef5350"/>
<rect x="499" y="250" width="1" height="34" fill="#26a69a"/>
<rect x="495" y="250" width="9" height="34" fill="#26a69a"/>
<rect x="510" y="223" width="1" height="66" fill="#ef5350"/>
<rect x="506" y="223" width="9" height="58" fill="#ef5350"/>
<rect x="522" y="236" width="1" height="46" fill="#26a69a"/>
<rect x="518" y="260" width="9" height="7" fill="#26a69a"/>
<rect x="533" y="219" width="1" height="15" fill="#26a69a"/>
<rect x="529" y="219" width="9" height="2" fill="#26a69a"/>
<rect x="544" y="186" width="1" height="1" fill="#26a69a"/>
<rect x="540" y="186" width="9" height="1" fill="#26a69a"/>
<rect x="556" y="153" width="1" height="53" fill="#ef5350"/>
<rect x="552" y="153" width="9" height="25" fill="#ef5350"/>
<rect x="567" y="153" width="1" height="38" fill="#ef5350"/>
<rect x="563" y="157" width="9" height="17" fill="#ef5350"/>
<rect x="579" y="157" width="1" height="50" fill="#26a69a"/>
<rect x="575" y="169" width="9" height="5" fill="#26a69a"/>
<rect x="590" y="151" width="1" height="61" fill="#ef5350"/>
<rect x="586" y="151" width="9" height="14" fill="#ef5350"/>
<rect x="602" y="194" width="1" height="18" fill="#26a69a"/>
<rect x="598" y="200" width="9" height="12" fill="#26a69a"/>
<rect x="613" y="179" width="1" height="48" fill="#ef5350"/>
<rect x="609" y="194" width="9" height="31" fill="#ef5350"/>
<rect x="625" y="217" width="1" height="28" fill="#ef5350"/>
<rect x="621" y="218" width="9" height="10" fill="#ef5350"/>
<rect x="636" y="194" width="1" height="39" fill="#26a69a"/>
<rect x="632" y="208" width="9" height="4" fill="#26a69a"/>
<rect x="648" y="227" width="1" height="16" fill="#26a69a"/>
<rect x="644" y="242" width="9" height="1" fill="#26a69a"/>
<rect x="659" y="254" width="1" height="23" fill="#26a69a"/>
<rect x="655" y="262" width="9" height="15" fill="#26a69a"/>
<rect x="671" y="260" width="1" height="50" fill="#ef5350"/>
<rect x="667" y="260" width="9" height="41" fill="#ef5350"/>
<rect x="682" y="266" width="1" height="55" fill="#26a69a"/>
<rect x="678" y="273" width="9" height="16" fill="#26a69a"/>
<rect x="693" y="257" width="1" height="10" fill="#26a69a"/>
<rect x="689" y="257" width="9" height="10" fill="#26a69a"/>
<rect x="705" y="242" width="1" height="48" fill="#ef5350"/>
<rect x="701" y="242" width="9" height="44" fill="#ef5350"/>
<rect x="716" y="264" width="1" height="42" fill="#26a69a"/>
<rect x="712" y="281" width="9" height="7" fill="#26a69a"/>
<rect x="728" y="256" width="1" height="1" fill="#26a69a"/>
<rect x="724" y="256" width="9" height="1" fill="#26a69a"/>
<rect x="739" y="223" width="1" height="23" fill="#26a69a"/>
<rect x="735" y="223" width="9" height="2" fill="#26a69a"/>
<rect x="751" y="192" width="1" height="23" fill="#26a69a"/>
<rect x="747" y="192" width="9" height="12" fill="#26a69a"/>
<rect x="762" y="160" width="1" height="28" fill="#26a69a"/>
<rect x="758" y="160" width="9" height="15" fill="#26a69a"/>
<rect x="774" y="141" width="1" height="54" fill="#ef5350"/>
<rect x="770" y="141" width="9" height="31" fill="#ef5350"/>
<rect x="785" y="170" width="1" height="36" fill="#ef5350"/>
<rect x="781" y="170" width="9" height="32" fill="#ef5350"/>
<rect x="797" y="199" width="1" height="29" fill="#26a69a"/>
<rect x="793" y="227" width="9" height="1" fill="#26a69a"/>
<rect x="808" y="227" width="1" height="31" fill="#26a69a"/>
<rect x="804" y="233" width="9" height="25" fill="#26a69a"/>
<rect x="820" y="224" width="1" height="47" fill="#ef5350"/>
<rect x="816" y="224" width="9" height="18" fill="#ef5350"/>
<rect x="831" y="240" width="1" height="30" fill="#26a69a"/>
<rect x="827" y="249" width="9" height="12" fill="#26a69a"/>
<rect x="843" y="241" width="1" height="43" fill="#ef5350"/>
<rect x="839" y="241" width="9" height="20" fill="#ef5350"/>
<rect x="854" y="244" width="1" height="34" fill="#ef5350"/>
<rect x="850" y="244" width="9" height="25" fill="#ef5350"/>
<rect x="865" y="260" width="1" height="19" fill="#ef5350"/>
<rect x="861" y="268" width="9" height="7" fill="#ef5350"/>
<rect x="877" y="240" width="1" height="35" fill="#26a69a"/>
<rect x="873" y="240" width="9" height="29" fill="#26a69a"/>
<rect x="888" y="227" width="1" height="50" fill="#ef5350"/>
<rect x="884" y="240" width="9" height="11" fill="#ef5350"/>
<rect x="900" y="241" width="1" height="22" fill="#26a69a"/>
<rect x="896" y="248" width="9" height="15" fill="#26a69a"/>
<rect x="911" y="246" width="1" height="17" fill="#ef5350"/>
<rect x="907" y="253" width="9" height="6" fill="#ef5350"/>
<rect x="923" y="258" width="1" height="34" fill="#ef5350"/>
<rect x="919" y="266" width="9" height="23" fill="#ef5350"/>
<rect x="934" y="266" width="1" height="38" fill="#ef5350"/>
<rect x="930" y="288" width="9" height="12" fill="#ef5350"/>
<rect x="946" y="278" width="1" height="53" fill="#ef5350"/>
<rect x="942" y="296" width="9" height="31" fill="#ef5350"/>
<rect x="957" y="305" width="1" height="29" fill="#26a69a"/>
<rect x="953" y="317" width="9" height="5" fill="#26a69a"/>
<rect x="969" y="309" width="1" height="22" fill="#ef5350"/>
<rect x="965" y="314" width="9" height="10" fill="#ef5350"/>
<rect x="980" y="360" width="1" height="1" fill="#26a69a"/>
<rect x="976" y="360" width="9" height="1" fill="#26a69a"/>
<rect x="992" y="394" width="1" height="1" fill="#26a69a"/>
<rect x="988" y="394" width="9" height="1" fill="#26a69a"/>
<rect x="1003" y="427" width="1" height="1" fill="#26a69a"/>
<rect x="999" y="427" width="9" height="1" fill="#26a69a"/>
<rect x="1014" y="440" width="1" height="1" fill="#26a69a"/>
<rect x="1010" y="440" width="9" height="1" fill="#26a69a"/>
<rect x="1026" y="409" width="1" height="65" fill="#26a69a"/>
<rect x="1022" y="415" width="9" height="59" fill="#26a69a"/>
<rect x="1037" y="435" width="1" height="40" fill="#ef5350"/>
<rect x="1033" y="435" width="9" height="26" fill="#ef5350"/>
<rect x="1049" y="465" width="1" height="29" fill="#ef5350"/>
<rect x="1045" y="471" width="9" height="23" fill="#ef5350"/>
<rect x="1060" y="481" width="1" height="42" fill="#26a69a"/>
<rect x="1056" y="484" width="9" height="38" fill="#26a69a"/>
<rect x="1072" y="470" width="1" height="28" fill="#26a69a"/>
<rect x="1068" y="491" width="9" height="6" fill="#26a69a"/>
<rect x="1083" y="457" width="1" height="22" fill="#26a69a"/>
<rect x="1079" y="457" width="9" height="12" fill="#26a69a"/>
<rect x="1095" y="440" width="1" height="13" fill="#ef5350"/>
<rect x="1091" y="440" width="9" height="9" fill="#ef5350"/>
<rect x="1106" y="417" width="1" height="14" fill="#26a69a"/>
<rect x="1102" y="417" width="9" height="11" fill="#26a69a"/>
<rect x="1118" y="394" width="1" height="27" fill="#26a69a"/>
<rect x="1114" y="414" width="9" height="1" fill="#26a69a"/>
<rect x="1129" y="390" width="1" height="20" fill="#ef5350"/>
<rect x="1125" y="404" width="9" height="6" fill="#ef5350"/>
<rect x="1141" y="380" width="1" height="19" fill="#26a69a"/>
<rect x="1137" y="389" width="9" height="9" fill="#26a69a"/>
<rect x="1152" y="367" width="1" height="22" fill="#ef5350"/>
<rect x="1148" y="386" width="9" height="3" fill="#ef5350"/>
<rect x="1164" y="375" width="1" height="15" fill="#ef5350"/>
<rect x="1160" y="379" width="9" height="11" fill="#ef5350"/>
<rect x="1175" y="382" width="1" height="14" fill="#ef5350"/>
<rect x="1171" y="383" width="9" height="13" fill="#ef5350"/>
<rect x="1186" y="386" width="1" height="10" fill="#ef5350"/>
<rect x="1182" y="386" width="9" height="10" fill="#ef5350"/>
<rect x="1198" y="376" width="1" height="22" fill="#26a69a"/>
<rect x="1194" y="392" width="9" height="6" fill="#26a69a"/>
<rect x="1209" y="386" width="1" height="35" fill="#ef5350"/>
<rect x="1205" y="386" width="9" height="35" fill="#ef5350"/>
<rect x="1221" y="441" width="1" height="1" fill="#26a69a"/>
<rect x="1217" y="441" width="9" height="1" fill="#26a69a"/>
<rect x="1232" y="471" width="1" height="5" fill="#26a69a"/>
<rect x="1228" y="475" width="9" height="1" fill="#26a69a"/>
<rect x="1244" y="462" width="1" height="23" fill="#ef5350"/>
<rect x="1240" y="473" width="9" height="11" fill="#ef5350"/>
<rect x="1255" y="460" width="1" height="25" fill="#ef5350"/>
<rect x="1251" y="468" width="9" height="16" fill="#ef5350"/>
<rect x="1267" y="449" width="1" height="48" fill="#26a69a"/>
<rect x="1263" y="457" width="9" height="40" fill="#26a69a"/>
<rect x="1278" y="443" width="1" height="42" fill="#ef5350"/>
<rect x="1274" y="465" width="9" height="16" fill="#ef5350"/>
<rect x="1290" y="452" width="1" height="48" fill="#ef5350"/>
<rect x="1286" y="452" width="9" height="38" fill="#ef5350"/>
<rect x="1301" y="457" width="1" height="28" fill="#26a69a"/>
<rect x="1297" y="463" width="9" height="22" fill="#26a69a"/>
<rect x="1313" y="452" width="1" height="22" fill="#ef5350"/>
<rect x="1309" y="456" width="9" height="13" fill="#ef5350"/>
<rect x="1324" y="465" width="1" height="30" fill="#ef5350"/>
<rect x="1320" y="480" width="9" height="12" fill="#ef5350"/>
<rect x="1335" y="481" width="1" height="24" fill="#ef5350"/>
<rect x="1331" y="484" width="9" height="18" fill="#ef5350"/>
<rect x="1347" y="509" width="1" height="18" fill="#ef5350"/>
<rect x="1343" y="509" width="9" height="18" fill="#ef5350"/>
<rect x="1358" y="512" width="1" height="25" fill="#26a69a"/>
<rect x="1354" y="516" width="9" height="16" fill="#26a69a"/>
<rect x="1370" y="496" width="1" height="31" fill="#26a69a"/>
<rect x="1366" y="496" width="9" height="2" fill="#26a69a"/>
<rect x="1381" y="465" width="1" height="62" fill="#ef5350"/>
<rect x="1377" y="465" width="9" height="35" fill="#ef5350"/>
<rect x="1393" y="497" width="1" height="28" fill="#26a69a"/>
<rect x="1389" y="499" width="9" height="26" fill="#26a69a"/>
<rect x="1404" y="501" width="1" height="22" fill="#26a69a"/>
<rect x="1400" y="517" width="9" height="5" fill="#26a69a"/>
<rect x="1416" y="509" width="1" height="13" fill="#ef5350"/>
<rect x="1412" y="514" width="9" height="6" fill="#ef5350"/>
<rect x="1427" y="527" width="1" height="22" fill="#ef5350"/>
<rect x="1423" y="529" width="9" height="20" fill="#ef5350"/>
<rect x="1439" y="534" width="1" height="37" fill="#26a69a"/>
<rect x="1435" y="548" width="9" height="20" fill="#26a69a"/>
<rect x="1450" y="529" width="1" height="39" fill="#26a69a"/>
<rect x="1446" y="562" width="9" height="6" fill="#26a69a"/>
<rect x="1462" y="563" width="1" height="15" fill="#26a69a"/>
<rect x="1458" y="570" width="9" height="8" fill="#26a69a"/>
<rect x="1473" y="544" width="1" height="56" fill="#26a69a"/>
<rect x="1469" y="544" width="9" height="56" fill="#26a69a"/>
<rect x="1485" y="524" width="1" height="11" fill="#26a69a"/>
<rect x="1481" y="524" width="9" height="1" fill="#26a69a"/>
<rect x="1496" y="491" width="1" height="22" fill="#26a69a"/>
<rect x="1492" y="491" width="9" height="22" fill="#26a69a"/>
<rect x="1507" y="471" width="1" height="44" fill="#ef5350"/>
<rect x="1503" y="471" width="9" height="29" fill="#ef5350"/>
<rect x="1519" y="462" width="1" height="60" fill="#26a69a"/>
<rect x="1515" y="468" width="9" height="44" fill="#26a69a"/>
<rect x="1530" y="443" width="1" height="4" fill="#26a69a"/>
<rect x="1526" y="443" width="9" height="4" fill="#26a69a"/>
<rect x="1542" y="411" width="1" height="50" fill="#ef5350"/>
<rect x="1538" y="411" width="9" height="20" fill="#ef5350"/>
<rect x="1553" y="403" width="1" height="33" fill="#ef5350"/>
<rect x="1549" y="418" width="9" height="9" fill="#ef5350"/>
<rect x="1565" y="398" width="1" height="32" fill="#26a69a"/>
<rect x="1561" y="403" width="9" height="15" fill="#26a69a"/>
<rect x="1576" y="391" width="1" height="40" fill="#ef5350"/>
<rect x="1572" y="391" width="9" height="34" fill="#ef5350"/>
<rect x="1588" y="435" width="1" height="17" fill="#ef5350"/>
<rect x="1584" y="441" width="9" height="11" fill="#ef5350"/>
<rect x="1599" y="460" width="1" height="17" fill="#ef5350"/>
<rect x="1595" y="475" width="9" height="2" fill="#ef5350"/>
<rect x="1611" y="502" width="1" height="1" fill="#26a69a"/>
<rect x="1607" y="502" width="9" height="1" fill="#26a69a"/>
<rect x="1622" y="484" width="1" height="53" fill="#26a69a"/>
<rect x="1618" y="486" width="9" height="51" fill="#26a69a"/>
</g>
<line x1="7" y1="486.5" x2="1801" y2="486.5" stroke="#26a69a" stroke-width="1" stroke-dasharray="1,2" shape-rendering="crispEdges"/>
<g shape-rendering="crispEdges">
<rect x="1801" y="44" width="1" height="777" fill="#e1e2e6"/>
<rect x="7" y="793" width="1864" height="1" fill="#e1e2e6"/>
<rect x="1802" y="53" width="4" height="1" fill="#e1e2e6"/>
<rect x="1802" y="99" width="4" height="1" fill="#e1e2e6"/>
<rect x="1802" y="146" width="4" height="1" fill="#e1e2e6"/>
<rect x="1802" y="195" width="4" height="1" fill="#e1e2e6"/>
<rect x="1802" y="246" width="4" height="1" fill="#e1e2e6"/>
<rect x="1802" y="300" width="4" height="1" fill="#e1e2e6"/>
<rect x="1802" y="357" width="4" height="1" fill="#e1e2e6"/>
<rect x="1802" y="401" width="4" height="1" fill="#e1e2e6"/>
<rect x="1802" y="432" width="4" height="1" fill="#e1e2e6"/>
<rect x="1802" y="496" width="4" height="1" fill="#e1e2e6"/>
<rect x="1802" y="563" width="4" height="1" fill="#e1e2e6"/>
<rect x="1802" y="599" width="4" height="1" fill="#e1e2e6"/>
<rect x="1802" y="635" width="4" height="1" fill="#e1e2e6"/>
<rect x="1802" y="665" width="4" height="1" fill="#e1e2e6"/>
<rect x="1802" y="696" width="4" height="1" fill="#e1e2e6"/>
<rect x="1802" y="728" width="4" height="1" fill="#e1e2e6"/>
<rect x="1802" y="760" width="4" height="1" fill="#e1e2e6"/>
<rect x="86" y="794" width="1" height="4" fill="#e1e2e6"/>
<rect x="166" y="794" width="1" height="4" fill="#e1e2e6"/>
<rect x="281" y="794" width="1" height="4" fill="#e1e2e6"/>
<rect x="430" y="794" width="1" height="4" fill="#e1e2e6"/>
<rect x="510" y="794" width="1" height="4" fill="#e1e2e6"/>
<rect x="648" y="794" width="1" height="4" fill="#e1e2e6"/>
<rect x="728" y="794" width="1" height="4" fill="#e1e2e6"/>
<rect x="808" y="794" width="1" height="4" fill="#e1e2e6"/>
<rect x="888" y="794" width="1" height="4" fill="#e1e2e6"/>
<rect x="1014" y="794" width="1" height="4" fill="#e1e2e6"/>
<rect x="1095" y="794" width="1" height="4" fill="#e1e2e6"/>
<rect x="1244" y="794" width="1" height="4" fill="#e1e2e6"/>
<rect x="1324" y="794" width="1" height="4" fill="#e1e2e6"/>
<rect x="1404" y="794" width="1" height="4" fill="#e1e2e6"/>
<rect x="1485" y="794" width="1" height="4" fill="#e1e2e6"/>
<rect x="1565" y="794" width="1" height="4" fill="#e1e2e6"/>
<rect x="1714" y="794" width="1" height="4" fill="#e1e2e6"/>
<rect x="1794" y="794" width="1" height="4" fill="#e1e2e6"/>
</g>
<text class="ax" x="1811" y="57.5" textLength="48.2" lengthAdjust="spacingAndGlyphs">10200.00</text>
<text class="ax" x="1811" y="103.5" textLength="41.8" lengthAdjust="spacingAndGlyphs">9800.00</text>
<text class="ax" x="1811" y="150.5" textLength="41.8" lengthAdjust="spacingAndGlyphs">9400.00</text>
<text class="ax" x="1811" y="199.5" textLength="41.8" lengthAdjust="spacingAndGlyphs">9000.00</text>
<text class="ax" x="1811" y="250.5" textLength="41.8" lengthAdjust="spacingAndGlyphs">8600.00</text>
<text class="ax" x="1811" y="304.5" textLength="41.8" lengthAdjust="spacingAndGlyphs">8200.00</text>
<text class="ax" x="1811" y="361.5" textLength="41.8" lengthAdjust="spacingAndGlyphs">7800.00</text>
<text class="ax" x="1811" y="405.5" textLength="41.8" lengthAdjust="spacingAndGlyphs">7500.00</text>
<text class="ax" x="1811" y="436.5" textLength="41.8" lengthAdjust="spacingAndGlyphs">7300.00</text>
<text class="ax" x="1811" y="500.5" textLength="41.8" lengthAdjust="spacingAndGlyphs">6900.00</text>
<text class="ax" x="1811" y="567.5" textLength="41.8" lengthAdjust="spacingAndGlyphs">6500.00</text>
<text class="ax" x="1811" y="603.5" textLength="41.8" lengthAdjust="spacingAndGlyphs">6300.00</text>
<text class="ax" x="1811" y="639.5" textLength="41.8" lengthAdjust="spacingAndGlyphs">6100.00</text>
<text class="ax" x="1811" y="669.5" textLength="41.8" lengthAdjust="spacingAndGlyphs">5940.00</text>
<text class="ax" x="1811" y="700.5" textLength="41.8" lengthAdjust="spacingAndGlyphs">5780.00</text>
<text class="ax" x="1811" y="732.5" textLength="41.8" lengthAdjust="spacingAndGlyphs">5620.00</text>
<text class="ax" x="1811" y="764.5" textLength="41.8" lengthAdjust="spacingAndGlyphs">5460.00</text>
<path d="M1801,434.0 h57 a2,2 0 0 1 2,2 v13 a2,2 0 0 1 -2,2 h-57 z" fill="#2196f3"/>
<rect x="1801" y="442.0" width="5" height="1" fill="rgba(255,255,255,0.6)" shape-rendering="crispEdges"/>
<text class="axb" x="1811" y="446.9" textLength="42" lengthAdjust="spacingAndGlyphs">7163.98</text>
<path d="M1801,451.0 h57 a2,2 0 0 1 2,2 v13 a2,2 0 0 1 -2,2 h-57 z" fill="#2196f3"/>
<rect x="1801" y="459.0" width="5" height="1" fill="rgba(255,255,255,0.6)" shape-rendering="crispEdges"/>
<text class="axb" x="1811" y="463.9" textLength="42" lengthAdjust="spacingAndGlyphs">7129.81</text>
<path d="M1801,478.0 h57 a2,2 0 0 1 2,2 v13 a2,2 0 0 1 -2,2 h-57 z" fill="#26a69a"/>
<rect x="1801" y="486.0" width="5" height="1" fill="rgba(255,255,255,0.6)" shape-rendering="crispEdges"/>
<text class="axb" x="1811" y="490.9" textLength="42" lengthAdjust="spacingAndGlyphs">6960.00</text>
<path d="M1801,519.0 h57 a2,2 0 0 1 2,2 v13 a2,2 0 0 1 -2,2 h-57 z" fill="#2196f3"/>
<rect x="1801" y="527.0" width="5" height="1" fill="rgba(255,255,255,0.6)" shape-rendering="crispEdges"/>
<text class="axb" x="1811" y="531.9" textLength="42" lengthAdjust="spacingAndGlyphs">6713.06</text>
<path d="M1801,538.0 h57 a2,2 0 0 1 2,2 v13 a2,2 0 0 1 -2,2 h-57 z" fill="#2196f3"/>
<rect x="1801" y="546.0" width="5" height="1" fill="rgba(255,255,255,0.6)" shape-rendering="crispEdges"/>
<text class="axb" x="1811" y="550.9" textLength="42" lengthAdjust="spacingAndGlyphs">6599.38</text>
<text class="tmb" x="86.5" y="810.4" textLength="26.7" lengthAdjust="spacingAndGlyphs">فوریه</text>
<text class="tm" x="166.5" y="810.4" textLength="12.2" lengthAdjust="spacingAndGlyphs">15</text>
<text class="tmb" x="281.5" y="810.4" textLength="26.9" lengthAdjust="spacingAndGlyphs">مارس</text>
<text class="tmb" x="430.5" y="810.4" textLength="26.7" lengthAdjust="spacingAndGlyphs">آوریل</text>
<text class="tm" x="510.5" y="810.4" textLength="12.2" lengthAdjust="spacingAndGlyphs">15</text>
<text class="tmb" x="648.5" y="810.4" textLength="16.8" lengthAdjust="spacingAndGlyphs">می</text>
<text class="tm" x="728.5" y="810.4" textLength="12.2" lengthAdjust="spacingAndGlyphs">12</text>
<text class="tm" x="808.5" y="810.4" textLength="12.2" lengthAdjust="spacingAndGlyphs">21</text>
<text class="tmb" x="888.5" y="810.4" textLength="22" lengthAdjust="spacingAndGlyphs">ژوئن</text>
<text class="tmb" x="1014.5" y="810.4" textLength="17.6" lengthAdjust="spacingAndGlyphs">Jul</text>
<text class="tm" x="1095.5" y="810.4" textLength="12.2" lengthAdjust="spacingAndGlyphs">14</text>
<text class="tmb" x="1244.5" y="810.4" textLength="36" lengthAdjust="spacingAndGlyphs">آگوست</text>
<text class="tm" x="1324.5" y="810.4" textLength="12.2" lengthAdjust="spacingAndGlyphs">11</text>
<text class="tm" x="1404.5" y="810.4" textLength="12.2" lengthAdjust="spacingAndGlyphs">20</text>
<text class="tmb" x="1485.5" y="810.4" textLength="20" lengthAdjust="spacingAndGlyphs">Sep</text>
<text class="tm" x="1565.5" y="810.4" textLength="12.2" lengthAdjust="spacingAndGlyphs">14</text>
<text class="tmb" x="1714.5" y="810.4" textLength="21.6" lengthAdjust="spacingAndGlyphs">اکتبر</text>
<text class="tm" x="1794.5" y="810.4" textLength="12.2" lengthAdjust="spacingAndGlyphs">12</text>
<rect x="6.5" y="43.5" width="1865" height="778" fill="none" stroke="#000" stroke-width="1" shape-rendering="crispEdges"/>
<text class="mono" x="6" y="19" textLength="427.0" lengthAdjust="spacingAndGlyphs" >Published on TradingView.com, September 21, 2025 09:49:11 UTC</text>
<text class="mono" style="font-size:9.5px" x="6.5" y="34.1" textLength="166.5" lengthAdjust="spacingAndGlyphs">سراف جیلخ یمیشورتپ عیانص</text>
<text class="mono" x="180.3" y="35.3" textLength="7.0" lengthAdjust="spacingAndGlyphs" >D</text>
<text class="mono" x="193.3" y="35.3" textLength="63.0" lengthAdjust="spacingAndGlyphs" >O:6660.00</text>
<text class="mono" x="261" y="35.3" textLength="63.0" lengthAdjust="spacingAndGlyphs" >H:6970.00</text>
<text class="mono" x="329" y="35.3" textLength="63.0" lengthAdjust="spacingAndGlyphs" >L:6660.00</text>
<text class="mono" x="397" y="35.3" textLength="63.0" lengthAdjust="spacingAndGlyphs" >C:6960.00</text>
<text class="mono" x="15.4" y="66.7" textLength="14.0" lengthAdjust="spacingAndGlyphs" >1D</text>
<text class="mono" x="36.4" y="66.7" textLength="7.0" lengthAdjust="spacingAndGlyphs" >,</text>
<text class="mono" style="font-size:9.5px" x="43.8" y="65.5" textLength="166.5" lengthAdjust="spacingAndGlyphs">سراف جیلخ یمیشورتپ عیانص</text>
<text class="mono" style="font-size:9.5px" x="15.4" y="82.7" textLength="13.5" lengthAdjust="spacingAndGlyphs">مجح</text>
<text class="mono" x="15.4" y="100.7" textLength="126.0" lengthAdjust="spacingAndGlyphs" >SuperTrend (10, 3)</text>
<text class="mono" x="15.4" y="117.7" textLength="119.0" lengthAdjust="spacingAndGlyphs" >MA (25, close, 0)</text>
<text class="mono" x="15.4" y="134.7" textLength="168.0" lengthAdjust="spacingAndGlyphs" >Ichimoku (9, 26, 52, 26)</text>
<g fill="#131722"><path d="M6,833.5 h9.2 v11.3 h-5 v-7 h-4.2 z"/><circle cx="18.3" cy="835.5" r="1.95"/><path d="M22.8,833.5 h5.7 l-4.6,11.3 h-4.7 z"/></g>
<text class="logo" x="33.2" y="844.7" textLength="91.6" lengthAdjust="spacingAndGlyphs">TradingView</text>
</svg></body></html>
